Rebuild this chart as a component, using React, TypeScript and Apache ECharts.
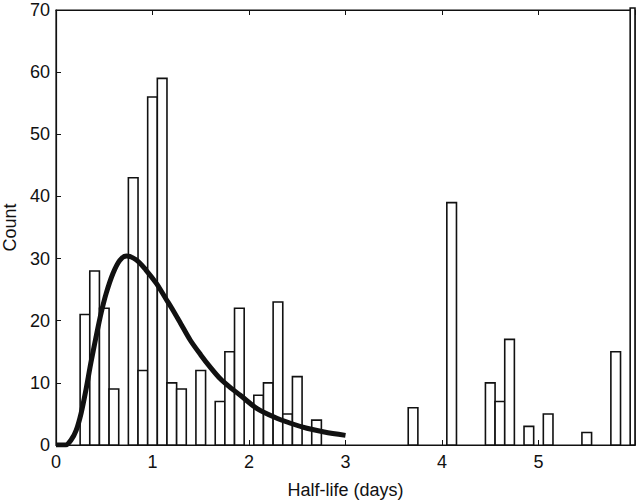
import React, { useEffect, useRef } from "react";
import * as echarts from "echarts";

// Histogram bins (centre of 0.1-day bins) and counts
const binCenters = [0.3, 0.4, 0.5, 0.6, 0.8, 0.9, 1.0, 1.1, 1.2, 1.3, 1.5, 1.7, 1.8, 1.9, 2.1, 2.2, 2.3, 2.4, 2.5, 2.7, 3.7, 4.1, 4.5, 4.6, 4.7, 4.9, 5.1, 5.5, 5.8, 6.0];
const counts = [21, 28, 22, 9, 43, 12, 56, 59, 10, 9, 12, 7, 15, 22, 8, 10, 23, 5, 11, 4, 6, 39, 10, 7, 17, 3, 5, 2, 15, 80];
const binWidth = 0.1;

// Fitted curve
const curveX = [0, 0.1, 0.156, 0.21, 0.26, 0.31, 0.36, 0.415, 0.467, 0.52, 0.59, 0.66, 0.73, 0.83, 0.93, 1.04, 1.14, 1.2, 1.29, 1.39, 1.5, 1.6, 1.7, 1.81, 1.91, 2.08, 2.26, 2.43, 2.6, 2.78, 3.0];
const curveY = [0, 0, 0.8, 2.4, 5.1, 8.85, 13.1, 17.4, 21.2, 24.4, 27.6, 29.7, 30.4, 29.8, 28.2, 26, 23.5, 22.0, 19.6, 16.9, 14.5, 12.5, 10.7, 9.2, 8.0, 5.9, 4.5, 3.5, 2.7, 2.1, 1.55];

const xTicks = [0, 1, 2, 3, 4, 5];
const yTicks = [0, 10, 20, 30, 40, 50, 60, 70];

const FONT = "'Liberation Sans', Arial, Helvetica, sans-serif";

export default function App() {
  const ref = useRef<HTMLDivElement>(null);
  useEffect(() => {
    if (!ref.current) return;
    const chart = echarts.init(ref.current, undefined, { renderer: "svg" });
    const barData = binCenters.map((c, i) => [c, counts[i]]);
    const curveData = curveX.map((x, i) => [x, curveY[i]]);
    chart.setOption({
      animation: false,
      backgroundColor: "#fff",
      grid: {
        left: 56,
        right: 5,
        top: 10,
        bottom: 57,
        containLabel: false,
        outerBoundsMode: "none",
        show: true,
        borderColor: "#111",
        borderWidth: 1.2,
        backgroundColor: "transparent",
      },
      xAxis: [
        {
          type: "value",
          min: 0,
          max: 6,
          interval: 1,
          position: "bottom",
          name: "Half-life (days)",
          nameLocation: "middle",
          nameGap: 36,
          nameTextStyle: { fontFamily: FONT, fontSize: 18, color: "#111" },
          axisLine: { show: true, lineStyle: { color: "#111", width: 1.2 } },
          axisTick: { show: true, inside: true, length: 5, lineStyle: { color: "#111" } },
          axisLabel: {
            fontFamily: FONT,
            fontSize: 18,
            color: "#111",
            margin: 8,
            formatter: (v: number) => (xTicks.includes(v) ? String(v) : ""),
          },
          splitLine: { show: false },
        },
        {
          type: "value",
          min: 0,
          max: 6,
          interval: 1,
          position: "top",
          axisLine: { show: true, lineStyle: { color: "#111", width: 1.2 } },
          axisTick: { show: true, inside: true, length: 5, lineStyle: { color: "#111" } },
          axisLabel: { show: false },
          splitLine: { show: false },
        },
      ],
      yAxis: {
        type: "value",
        min: 0,
        max: 70,
        interval: 10,
        name: "Count",
        nameLocation: "middle",
        nameGap: 37,
        nameTextStyle: { fontFamily: FONT, fontSize: 18, color: "#111" },
        axisLine: { show: true, lineStyle: { color: "#111", width: 1.2 } },
        axisTick: { show: true, inside: true, length: 5, lineStyle: { color: "#111" } },
        axisLabel: {
          fontFamily: FONT,
          fontSize: 18,
          color: "#111",
          margin: 6,
          formatter: (v: number) => (yTicks.includes(v) ? String(v) : ""),
        },
        splitLine: { show: false },
      },
      series: [
        {
          type: "custom",
          xAxisIndex: 0,
          data: barData,
          renderItem: (params: any, api: any) => {
            const c = api.value(0);
            const v = api.value(1);
            const p0 = api.coord([c - binWidth / 2, v]);
            const p1 = api.coord([c + binWidth / 2, 0]);
            const shape = echarts.graphic.clipRectByRect(
              { x: p0[0], y: p0[1], width: p1[0] - p0[0], height: p1[1] - p0[1] },
              {
                x: params.coordSys.x,
                y: params.coordSys.y - 2,
                width: params.coordSys.width,
                height: params.coordSys.height + 2,
              }
            );
            if (!shape) return null;
            return {
              type: "rect",
              shape,
              style: { fill: "#fff", stroke: "#111", lineWidth: 1.6 },
            };
          },
          z: 2,
        },
        {
          type: "line",
          xAxisIndex: 0,
          data: curveData,
          smooth: 0.3,
          showSymbol: false,
          symbol: "none",
          lineStyle: { color: "#111", width: 5 },
          z: 3,
        },
      ],
    });
    return () => chart.dispose();
  }, []);
  return <div ref={ref} style={{ position: "absolute", left: 0, top: 0, width: 640, height: 502 }} />;
}
